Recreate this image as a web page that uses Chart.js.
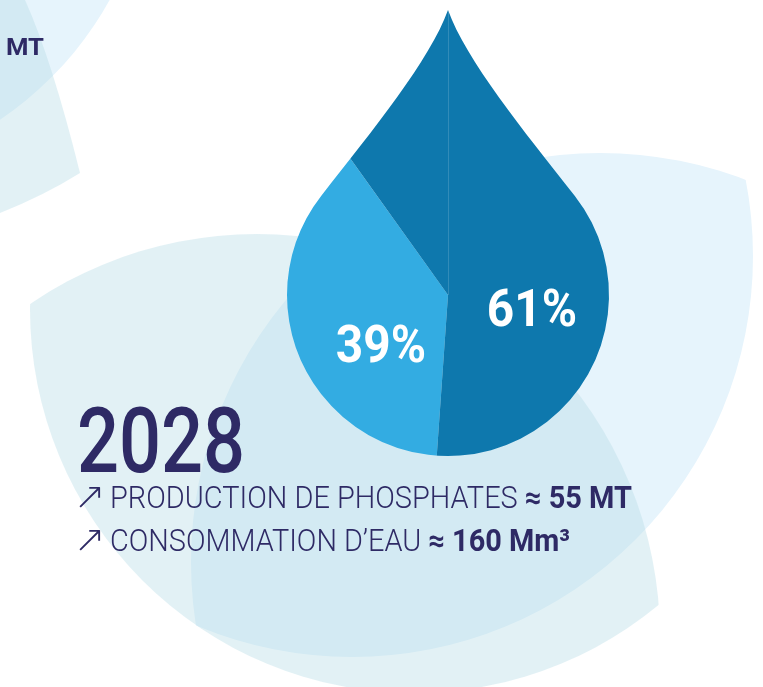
<!DOCTYPE html>
<html>
<head>
<meta charset="utf-8">
<script src="https://cdn.jsdelivr.net/npm/chart.js@4.4.1/dist/chart.umd.min.js"></script>
<style>
  html, body { margin: 0; padding: 0; background: #fff; }
  #wrap { position: relative; width: 763px; height: 687px; overflow: hidden; }
  #box { position: absolute; left: 0; top: 0; width: 763px; height: 687px; }
  .txt { position: absolute; white-space: nowrap; color: #2e2a65; font-family: Roboto, "DejaVu Sans", sans-serif; transform-origin: 0 0; }
  .year { left: 77px; top: 396px; font-size: 91px; line-height: 91px; font-weight: 500; }
  .line { left: 110px; font-size: 31px; line-height: 31px; font-weight: 300; }
  .line b { font-weight: 700; }
  .arrow { left: 74px; font-size: 38px; line-height: 38px; font-weight: 200; font-family: "DejaVu Sans", sans-serif; }
  .cut { left: 6px; top: 35px; font-size: 24px; line-height: 24px; font-weight: 700; }
</style>
</head>
<body>
<div id="wrap">
  <div id="box"><canvas id="drop-chart"></canvas></div>
  <div class="txt cut" data-w="38">MT</div>
  <div class="txt year" data-w="168">2028</div>
  <div class="txt arrow" style="top:477px">↗</div>
  <div class="txt line" style="top:482px" data-w="522">PRODUCTION DE PHOSPHATES <b>≈ 55 MT</b></div>
  <div class="txt arrow" style="top:520px">↗</div>
  <div class="txt line" style="top:525px" data-w="460">CONSOMMATION D’EAU <b>≈ 160 Mm³</b></div>
</div>
<script>
// water use split shown inside the drop
const shareLabels = ['Part 1', 'Part 2'];
const shareValues = [39, 61];

// pale leaves behind the drop: [cx, cy, r] circles, lenses are the overlap of two
function lens(ctx, c1, c2) {
    ctx.save();
    ctx.beginPath();
    ctx.arc(c1[0], c1[1], c1[2], 0, Math.PI * 2);
    ctx.clip();
    ctx.beginPath();
    ctx.arc(c2[0], c2[1], c2[2], 0, Math.PI * 2);
    ctx.fill();
    ctx.restore();
}

const leaves = {
    id: 'leaves',
    beforeDraw(chart) {
        const ctx = chart.ctx;
        ctx.save();
        ctx.fillStyle = '#fff';
        ctx.fillRect(0, 0, chart.width, chart.height);

        ctx.fillStyle = '#e6f4fc';
        ctx.beginPath();
        ctx.arc(-194, -168, 347, 0, Math.PI * 2);
        ctx.fill();
        lens(ctx, [600, 562, 409], [352, 256, 401]);

        ctx.fillStyle = 'rgba(182, 220, 230, 0.4)';
        ctx.beginPath();
        ctx.moveTo(0, 0);
        ctx.lineTo(25, 0);
        ctx.quadraticCurveTo(52, 60, 80, 173);
        ctx.quadraticCurveTo(45, 195, 0, 213);
        ctx.closePath();
        ctx.fill();
        lens(ctx, [257, 637, 403], [414, 309, 384]);
        ctx.restore();
    }
};

function dropPath(ctx, cx, cy) {
    const R = 161, a = -38 * Math.PI / 180;
    const tx = R * Math.cos(a), ty = R * Math.sin(a);
    ctx.beginPath();
    ctx.moveTo(cx, cy - 285);
    ctx.bezierCurveTo(cx + 18, cy - 235, cx + 75, cy - 165, cx + tx, cy + ty);
    ctx.arc(cx, cy, R, a, Math.PI - a);
    ctx.bezierCurveTo(cx - 75, cy - 165, cx - 18, cy - 235, cx, cy - 285);
    ctx.closePath();
}

// cut the pie down to a drop shape
const dropClip = {
    id: 'dropClip',
    beforeDatasetsDraw(chart) {
        const arc = chart.getDatasetMeta(0).data[0];
        chart.ctx.save();
        dropPath(chart.ctx, arc.x, arc.y);
        chart.ctx.clip();
    },
    afterDatasetsDraw(chart) {
        const ctx = chart.ctx;
        const arc = chart.getDatasetMeta(0).data[0];
        // faint seam from the tip
        ctx.strokeStyle = 'rgba(255,255,255,0.15)';
        ctx.lineWidth = 1;
        ctx.beginPath();
        ctx.moveTo(Math.round(arc.x) + 0.5, arc.y - 290);
        ctx.lineTo(Math.round(arc.x) + 0.5, arc.y);
        ctx.stroke();
        ctx.restore();

        const offsets = [[-67, 67], [84, 31]];
        shareValues.forEach(function (v, i) {
            ctx.save();
            ctx.translate(arc.x + offsets[i][0], arc.y + offsets[i][1]);
            ctx.scale(0.92, 1);
            ctx.fillStyle = '#fff';
            ctx.font = 'bold 52px Roboto, sans-serif';
            ctx.textAlign = 'center';
            ctx.textBaseline = 'alphabetic';
            ctx.fillText(v + '%', 0, 0);
            ctx.restore();
        });
    }
};

new Chart(document.getElementById('drop-chart'), {
    type: 'pie',
    data: {
        labels: shareLabels,
        datasets: [{
            data: shareValues,
            backgroundColor: ['#33ace2', '#0e78ad'],
            borderWidth: 0,
            hoverOffset: 0
        }]
    },
    options: {
        responsive: true,
        maintainAspectRatio: false,
        animation: false,
        events: [],
        rotation: 184,
        layout: { padding: { left: 153, right: 20, top: 0, bottom: 97 } },
        plugins: {
            legend: { display: false },
            tooltip: { enabled: false }
        }
    },
    plugins: [leaves, dropClip]
});

// squeeze the text blocks to the widths of the condensed original font
function fitTexts() {
    document.querySelectorAll('.txt[data-w]').forEach(function (el) {
        el.style.transform = 'none';
        var w = el.getBoundingClientRect().width;
        el.style.transform = 'scaleX(' + (el.dataset.w / w) + ')';
    });
}
fitTexts();
document.fonts.ready.then(fitTexts);
</script>
</body>
</html>
